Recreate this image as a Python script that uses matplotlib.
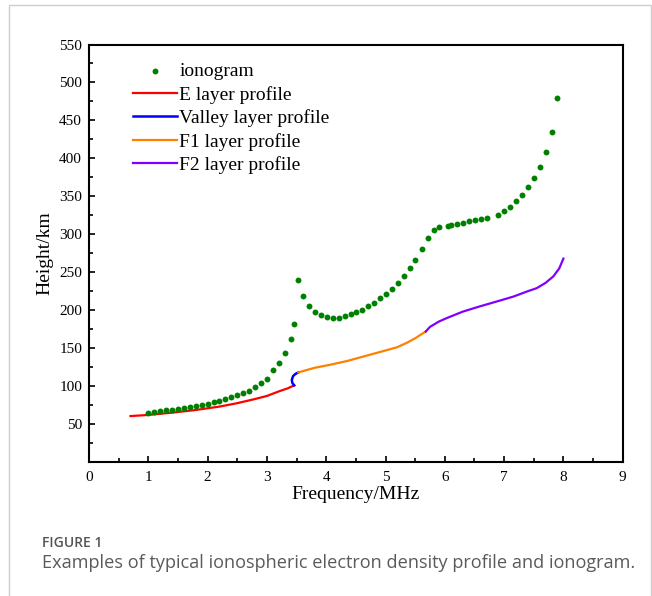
import matplotlib
matplotlib.use("Agg")
import matplotlib.pyplot as plt
from matplotlib.patches import Rectangle
from matplotlib.ticker import MultipleLocator

# Ionogram (virtual height) points
iono_f = [1.0, 1.1, 1.2, 1.3, 1.4, 1.5, 1.6, 1.7, 1.8, 1.9, 2.0, 2.1, 2.2, 2.3, 2.4,
          2.5, 2.6, 2.7, 2.8, 2.9, 3.0, 3.1, 3.2, 3.3, 3.4, 3.46, 3.53, 3.61, 3.71,
          3.81, 3.91, 4.01, 4.11, 4.21, 4.31, 4.41, 4.51, 4.61, 4.71, 4.81, 4.91,
          5.01, 5.11, 5.21, 5.31, 5.41, 5.50, 5.61, 5.71, 5.81, 5.91, 6.06, 6.10,
          6.20, 6.31, 6.41, 6.51, 6.61, 6.71, 6.90, 7.00, 7.10, 7.20, 7.30, 7.40,
          7.50, 7.61, 7.71, 7.80, 7.90]
iono_h = [65, 66, 67, 68, 69, 70, 71, 72, 73.5, 75, 77, 79, 81, 83, 85,
          88, 91, 94, 98.5, 104, 110, 121, 130, 143, 162, 182, 240, 219, 205,
          198, 194, 191, 190, 190, 192.5, 195, 197.5, 200.5, 205, 209, 215.5,
          221, 228, 236, 244.5, 256, 266.5, 281, 295, 306, 309, 311.5, 312,
          314, 315.5, 317, 318.5, 320, 321.5, 326, 330.5, 336.5, 344, 352, 362,
          374, 389, 408, 435, 480]

# Profile segments (true height)
e_f = [0.70, 1.0, 1.4, 1.8, 2.2, 2.5, 2.8, 3.0, 3.2, 3.35, 3.46]
e_h = [60.5, 62, 65, 68.5, 73, 77.5, 83, 87, 93, 97, 101]

valley_f = [3.46, 3.43, 3.42, 3.44, 3.48, 3.53]
valley_h = [101, 104, 108, 113, 116, 118]

f1_f = [3.53, 3.8, 4.06, 4.35, 4.63, 4.91, 5.19, 5.36, 5.5, 5.68]
f1_h = [118, 124, 128, 133, 139, 145, 151, 157, 163, 172]

f2_f = [5.68, 5.75, 5.9, 6.03, 6.3, 6.59, 6.9, 7.16, 7.4, 7.55, 7.7, 7.83, 7.93, 8.0]
f2_h = [172, 178, 185, 189.5, 198, 205, 212, 218, 225, 229, 236, 244.5, 255, 268]

x_ticks = [0, 1, 2, 3, 4, 5, 6, 7, 8, 9]
y_ticks = [50, 100, 150, 200, 250, 300, 350, 400, 450, 500, 550]

serif = ["Liberation Serif", "DejaVu Serif"]

fig = plt.figure(figsize=(6.52, 5.96), dpi=100)
# outer light border
fig.patches.append(Rectangle((9 / 652, -0.01), (651 - 9) / 652, 1 - 5 / 596 + 0.01,
                             transform=fig.transFigure, fill=False,
                             edgecolor="#cfcfcf", linewidth=1.0))

ax = fig.add_axes([89 / 652, 1 - 462 / 596, (622.7 - 89) / 652, (462 - 44.5) / 596])

ax.scatter(iono_f, iono_h, s=18, color="#008000", zorder=3, label="ionogram",
           linewidths=0)
ax.plot(e_f, e_h, color="#ff0000", lw=1.6, label="E layer profile")
ax.plot(valley_f, valley_h, color="#0000ff", lw=1.8, label="Valley layer profile")
ax.plot(f1_f, f1_h, color="#ff8000", lw=1.6, label="F1 layer profile")
ax.plot(f2_f, f2_h, color="#8000ff", lw=1.6, label="F2 layer profile")

ax.set_xlim(0, 9)
ax.set_ylim(0, 550)
ax.set_xticks(x_ticks)
ax.set_yticks(y_ticks)
ax.xaxis.set_minor_locator(MultipleLocator(0.5))
ax.yaxis.set_minor_locator(MultipleLocator(25))
ax.tick_params(which="both", direction="in", top=False, right=False, width=1.2)
ax.tick_params(which="major", length=4.5, labelsize=11, pad=5)
ax.tick_params(axis="x", which="major", pad=6.5)
ax.tick_params(which="minor", length=3)
for lab in ax.get_xticklabels() + ax.get_yticklabels():
    lab.set_family(serif)
for sp in ax.spines.values():
    sp.set_linewidth(1.5)

ax.set_xlabel("Frequency/MHz", family=serif, fontsize=14, labelpad=1.5)
ax.set_ylabel("Height/km", family=serif, fontsize=14, labelpad=4)

leg = ax.legend(loc="upper left", bbox_to_anchor=(0.06, 0.985), frameon=False,
                prop={"family": serif, "size": 14}, handlelength=2.3,
                handletextpad=0.1, labelspacing=0.29, borderaxespad=0.2,
                scatterpoints=1)

fig.text(42 / 652, 1 - 543 / 596, "FIGURE 1", family="Open Sans", fontsize=10,
         color="#555555", va="center", ha="left", weight="semibold")
fig.text(42 / 652, 1 - 563 / 596,
         "Examples of typical ionospheric electron density profile and ionogram.",
         family="Open Sans", fontsize=13.1, color="#5a5a5a", va="center", ha="left")

fig.savefig("out.png", dpi=100)
